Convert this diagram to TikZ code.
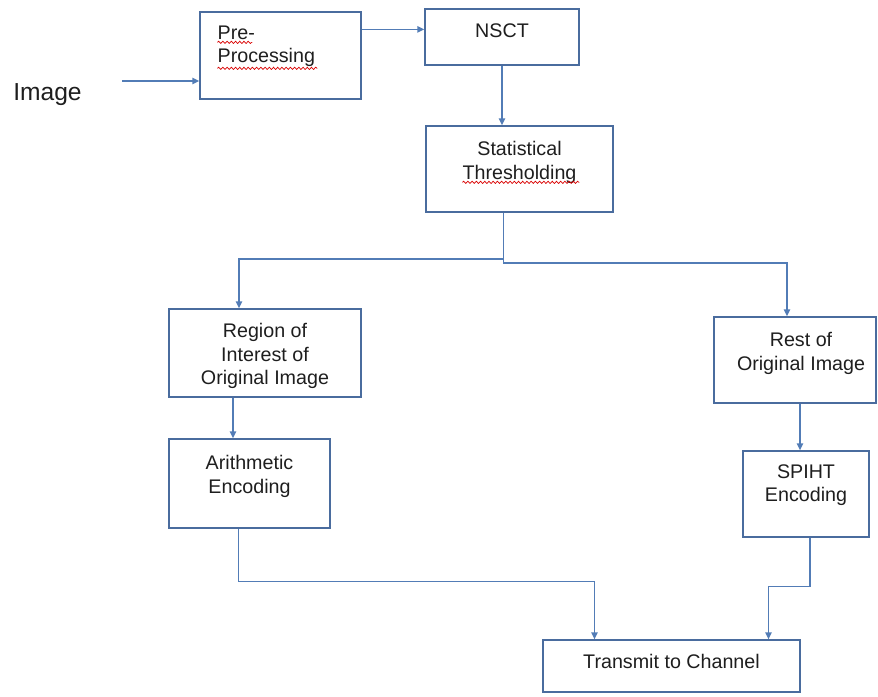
\documentclass[tikz,border=0pt]{standalone}
\usepackage{fontspec}
\setmainfont{Liberation Sans}
\usetikzlibrary{arrows.meta,positioning,calc,decorations.pathmorphing}

\definecolor{boxline}{RGB}{74,108,158}
\definecolor{flowline}{RGB}{82,124,182}
\definecolor{inktext}{RGB}{30,30,30}

\tikzset{
  block/.style={draw=boxline, line width=0.9pt, inner sep=0pt},
  lbl/.style={inner sep=0pt, align=center, text=inktext, font=\fontsize{14}{16.6}\selectfont},
  flow/.style={draw=flowline, line width=1.1pt, -{Triangle[length=5pt,width=4.5pt]}},
  squiggle/.style={draw=red!85!black, line width=0.5pt, decorate,
    decoration={snake, segment length=3pt, amplitude=0.8pt}}
}

\begin{document}
\begin{tikzpicture}[x=0.025cm, y=-0.025cm]
    \useasboundingbox (0,0) rectangle (878,696);

    % boxes
    \node[block, minimum width=4.025cm, minimum height=2.175cm] (pre)   at (280.5,55.5) {};
    \node[block, minimum width=3.85cm,  minimum height=1.4cm]   (nsct)  at (502,37)     {};
    \node[block, minimum width=4.675cm, minimum height=2.15cm]  (stat)  at (519.5,169)  {};
    \node[block, minimum width=4.8cm,   minimum height=2.2cm]   (roi)   at (265,353)    {};
    \node[block, minimum width=4.05cm,  minimum height=2.15cm]  (rest)  at (795,360)    {};
    \node[block, minimum width=4.025cm, minimum height=2.225cm] (arith) at (249.5,483.5){};
    \node[block, minimum width=3.15cm,  minimum height=2.15cm]  (spiht) at (806,494)    {};
    \node[block, minimum width=6.425cm, minimum height=1.3cm]   (trans) at (671.5,666)  {};

    % texts
    \node[anchor=base west, inner sep=0pt, text=inktext, font=\fontsize{17.5}{20}\selectfont] (img) at (13,100) {Image};
    \node[lbl, align=left, below right=0.35cm and 0.45cm of pre.north west] (pret) {Pre-\\Processing};
    \node[lbl, below=0.375cm of nsct.north]             (nsctt)  {NSCT};
    \node[lbl, below=0.4cm of stat.north]               (statt)  {Statistical\\Thresholding};
    \node[lbl, below=0.375cm of roi.north]              (roit)   {Region of\\Interest of\\Original Image};
    \node[lbl, below=0.4cm of rest.north, xshift=0.15cm](restt)  {Rest of\\Original Image};
    \node[lbl, below=0.425cm of arith.north]            (aritht) {Arithmetic\\Encoding};
    \node[lbl, below=0.35cm of spiht.north]             (spihtt) {SPIHT\\Encoding};
    \node[lbl, below=0.375cm of trans.north]            (transt) {Transmit to Channel};

    % spell-check marks
    \draw[squiggle] ($(pre.north west)+(18,31)$)  -- ++(35,0);
    \draw[squiggle] ($(pre.north west)+(18,57)$)  -- ++(100,0);
    \draw[squiggle] ($(stat.north west)+(37,57)$) -- ++(117,0);

    % connectors
    \coordinate (imgtail) at (122,81);
    \coordinate (pn) at ($(pre.north east)+(0,18)$);
    \coordinate (st) at ($(stat.south)+(-16,0)$);
    \coordinate (jl) at (239,259);
    \coordinate (jr) at (787,263);
    \coordinate (ra) at ($(roi.south)+(-32,0)$);
    \coordinate (rs) at ($(rest.south)+(5,0)$);
    \coordinate (tl) at ($(trans.north)+(-77,0)$);
    \coordinate (tr) at ($(trans.north)+(97,0)$);

    \draw[flow] (imgtail) -- (imgtail -| pre.west);
    \draw[flow] (pn) -- (pn -| nsct.west);
    \draw[flow] (nsct.south) -- (nsct.south |- stat.north);
    \draw[flow] (st) |- (jl) -- (jl |- roi.north);
    \draw[flow] (st) |- (jr) -- (jr |- rest.north);
    \draw[flow] (ra) -- (ra |- arith.north);
    \draw[flow] (rs) -- (rs |- spiht.north);
    \draw[flow] ($(arith.south)+(-11,0)$) |- ($(tl)+(0,-58)$) -- (tl);
    \draw[flow] ($(spiht.south)+(4,0)$) |- ($(tr)+(0,-53)$) -- (tr);
\end{tikzpicture}
\end{document}
